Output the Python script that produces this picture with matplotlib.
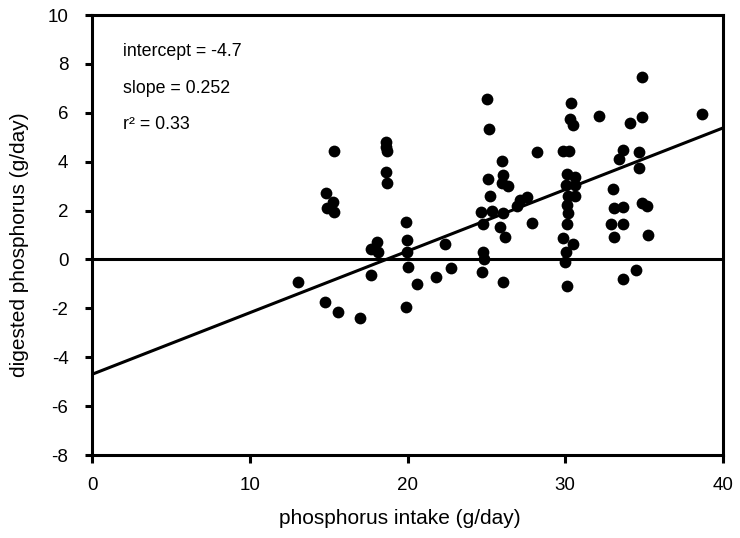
import matplotlib
matplotlib.use("Agg")
import matplotlib.pyplot as plt

plt.rcParams['font.family'] = ['Liberation Sans', 'DejaVu Sans']
plt.rcParams['axes.unicode_minus'] = False

intake = [15.34, 18.63, 18.63, 18.70, 18.63, 18.70, 14.83, 15.27, 14.90, 15.34,
          19.90, 18.06, 17.68, 18.12, 19.96, 19.96, 20.00, 17.68, 13.05, 20.60,
          21.80, 22.75, 22.37, 14.77, 15.59, 16.98, 19.90, 24.65, 24.78, 24.84,
          24.71, 24.78, 34.85, 25.03, 25.16, 30.35, 30.29, 30.48, 32.13, 34.09,
          34.85, 38.66, 28.20, 29.85, 30.23, 25.98, 33.65, 33.40, 34.66, 34.66,
          25.10, 26.05, 26.36, 25.98, 25.22, 30.10, 30.60, 30.04, 30.60, 30.16,
          30.60, 30.10, 33.00, 27.12, 27.55, 26.95, 33.08, 33.65, 34.85, 35.17,
          25.35, 26.05, 27.88, 25.86, 26.17, 26.05, 30.10, 29.97, 30.04, 30.48,
          29.85, 30.10, 30.16, 32.89, 33.65, 33.08, 35.23, 34.47, 33.65]
digested = [4.42, 4.79, 4.58, 4.42, 3.56, 3.11, 2.70, 2.37, 2.09, 1.96,
            1.55, 0.70, 0.41, 0.29, 0.78, 0.29, -0.29, -0.65, -0.94, -1.02,
            -0.70, -0.37, 0.65, -1.76, -2.13, -2.41, -1.96, 1.96, 0.29, 0.00,
            -0.53, 1.43, 7.45, 6.55, 5.32, 6.38, 5.73, 5.48, 5.85, 5.60,
            5.81, 5.97, 4.38, 4.42, 4.42, 4.01, 4.46, 4.09, 4.38, 3.76,
            3.31, 3.44, 2.99, 3.11, 2.58, 3.48, 3.36, 3.03, 3.03, 2.58,
            2.58, 2.21, 2.90, 2.45, 2.55, 2.20, 2.09, 2.13, 2.29, 2.17,
            2.00, 1.88, 1.51, 1.31, 0.90, -0.94, -1.10, -0.12, 0.29, 0.65,
            0.86, 1.47, 1.88, 1.47, 1.43, 0.90, 0.98, -0.45, -0.82]

intercept = -4.7
slope = 0.252
r2 = 0.33
x_ticks = [0, 10, 20, 30, 40]
y_ticks = [-8, -6, -4, -2, 0, 2, 4, 6, 8, 10]

fig = plt.figure(figsize=(7.4, 5.38), dpi=100)
ax = fig.add_axes([92/740, 1-455/538, (723-92)/740, (455-15)/538])

ax.scatter(intake, digested, s=72, color='black', zorder=3, linewidths=0)
ax.axhline(0, color='black', lw=2.2, zorder=2)
xs = [0, 40]
ax.plot(xs, [intercept + slope*x for x in xs], color='black', lw=2.2, zorder=2,
        solid_capstyle='butt')

ax.set_xlim(0, 40)
ax.set_ylim(-8, 10)
ax.set_xticks(x_ticks)
ax.set_yticks(y_ticks)
for s in ax.spines.values():
    s.set_linewidth(2.2)
ax.tick_params(axis='both', direction='out', width=2.2, labelsize=13.5)
ax.tick_params(axis='x', length=6, pad=10)
ax.tick_params(axis='y', length=5, pad=12)

ax.set_xlabel('phosphorus intake (g/day)', fontsize=15)
ax.set_ylabel('digested phosphorus (g/day)', fontsize=15)
ax.xaxis.set_label_coords((400-92)/631, -(518-455)/440, transform=ax.transAxes)
ax.yaxis.set_label_coords(-(92-19)/631, (455-245)/440, transform=ax.transAxes)
ax.xaxis.label.set_va('center')
ax.yaxis.label.set_va('center')

ax.text(1.95, 8.5, f'intercept = {intercept}', fontsize=12.8, va='center', ha='left')
ax.text(1.95, 7.0, f'slope = {slope}', fontsize=12.8, va='center', ha='left')
ax.text(1.95, 5.52, f'r\u00b2 = {r2}', fontsize=12.8, va='center', ha='left')

fig.savefig('out.png', dpi=100)
